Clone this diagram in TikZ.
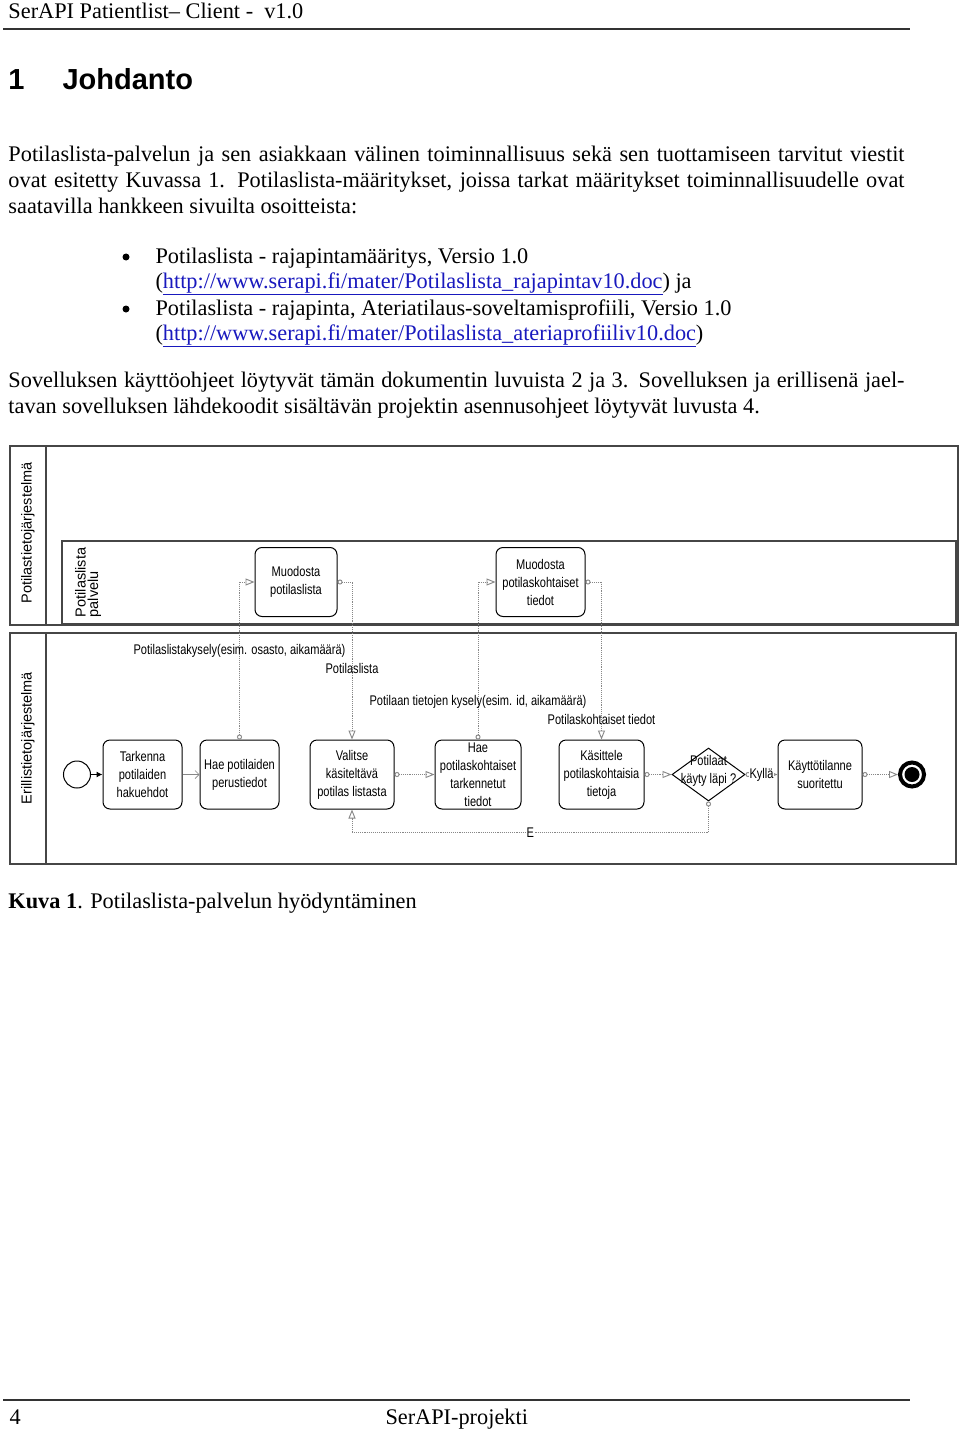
\documentclass[tikz,border=0pt]{standalone}
\usepackage{fontspec}
\usepackage{xcolor}
\usetikzlibrary{positioning,shapes.geometric,arrows.meta}
\setmainfont{Liberation Serif}
\newfontfamily\diagfont[FakeStretch=0.79]{Liberation Sans}
\newfontfamily\headfont{Liberation Sans}
\definecolor{linkblue}{RGB}{25,25,190}
\definecolor{flowgray}{RGB}{135,135,135}
\definecolor{poolgray}{RGB}{70,70,70}
\tikzstyle{task} = [rectangle, draw, rounded corners=7pt, minimum width=82pt, minimum height=69pt, align=center, inner sep=2pt, font=\diagfont\fontsize{14}{18}\selectfont]
\tikzstyle{decision} = [diamond, draw, minimum width=73pt, minimum height=53pt, inner sep=0pt, font=\diagfont\fontsize{14}{18}\selectfont]
\tikzstyle{startevent} = [circle, draw, minimum size=27pt, inner sep=0pt]
\tikzstyle{endevent} = [circle, draw, line width=4pt, minimum size=24pt, inner sep=0pt, path picture={\fill (path picture bounding box.center) circle (7.5pt);}]
\tikzstyle{msg} = [densely dotted, flowgray, line width=0.9pt, {Circle[open,length=5pt,width=5pt]}-{Triangle[open,length=9pt,width=7pt]}]
\tikzstyle{flowlabel} = [font=\diagfont\fontsize{14}{15}\selectfont, text=black, inner sep=1pt]
\tikzstyle{pool} = [draw=poolgray, line width=1.4pt]
\tikzstyle{poollabel} = [rotate=90, font=\headfont\fontsize{14.5}{12.5}\selectfont]
\tikzstyle{body} = [anchor=base west, inner sep=0pt, font=\fontsize{22.3}{26}\selectfont]
\tikzstyle{bullet} = [circle, fill, minimum size=7pt, inner sep=0pt]

\begin{document}
\begin{tikzpicture}[x=1pt,y=-1pt,>=stealth,node distance=97pt,line width=1pt]
  \path[fill=white,use as bounding box] (0,0) rectangle (960,1431);

  \node[body] (otsake) at (8,19) {SerAPI Patientlist-- Client -\ \ v1.0};
  \draw[line width=2pt,black!80] (3,29.5) -- (910,29.5);
  \node[body,font=\headfont\bfseries\fontsize{29}{30}\selectfont] (luku) at (8,90) {1};
  \node[body,font=\headfont\bfseries\fontsize{29}{30}\selectfont] (johdanto) at (62,90) {Johdanto};

  \node[body] (rivi1) at (8,162) {\makebox[896pt][s]{Potilaslista-palvelun ja sen asiakkaan välinen toiminnallisuus sekä sen tuottamiseen tarvitut viestit}};
  \node[body] (rivi2) at (8,188) {\makebox[896pt][s]{ovat esitetty Kuvassa 1. Potilaslista-määritykset, joissa tarkat määritykset toiminnallisuudelle ovat}};
  \node[body] (rivi3) at (8,214) {saatavilla hankkeen sivuilta osoitteista:};

  \node[bullet] (pallo1) at (126,257) {};
  \node[body] (kohta1) at (155,263) {Potilaslista - rajapintamääritys, Versio 1.0};
  \node[body] (linkki1) at (155,288) {(\textcolor{linkblue}{\underline{http://www.serapi.fi/mater/Potilaslista\_rajapintav10.doc}}) ja};
  \node[bullet] (pallo2) at (126,309) {};
  \node[body] (kohta2) at (155,315) {Potilaslista - rajapinta, Ateriatilaus-soveltamisprofiili, Versio 1.0};
  \node[body] (linkki2) at (155,340) {(\textcolor{linkblue}{\underline{http://www.serapi.fi/mater/Potilaslista\_ateriaprofiiliv10.doc}})};

  \node[body] (rivi4) at (8,387) {\makebox[896pt][s]{Sovelluksen käyttöohjeet löytyvät tämän dokumentin luvuista 2 ja 3. Sovelluksen ja erillisenä jael-}};
  \node[body] (rivi5) at (8,413) {tavan sovelluksen lähdekoodit sisältävän projektin asennusohjeet löytyvät luvusta 4.};

  \draw[pool] (10,446) rectangle (958,625);
  \draw[pool] (46,446) -- (46,625);
  \draw[pool] (62,541) rectangle (956,624);
  \draw[pool] (10,633) rectangle (956,864);
  \draw[pool] (46,633) -- (46,864);
  \node[poollabel] (ptj) at (28,533) {Potilastietojärjestelmä};
  \node[poollabel,align=left,anchor=west] (palvelu) at (88,621) {Potilaslista\\palvelu};
  \node[poollabel] (etj) at (28,738) {Erillistietojärjestelmä};

  \node[task] (muodlista) at (296,582) {Muodosta\\potilaslista};
  \node[task,minimum width=89pt] (muodtiedot) at (540.5,582) {Muodosta\\potilaskohtaiset\\tiedot};

  \node[startevent] (alku) at (77,774.5) {};
  \node[task,minimum width=79pt] (tarkenna) at (142.5,774.5) {Tarkenna\\potilaiden\\hakuehdot};
  \node[task,minimum width=79pt] (perustiedot) [right of=tarkenna] {Hae potilaiden\\perustiedot};
  \node[task,node distance=112.5pt,minimum width=84pt] (valitse) [right of=perustiedot] {Valitse\\käsiteltävä\\potilas listasta};
  \node[task,node distance=126pt,minimum width=86pt,inner ysep=0pt] (tarkennetut) [right of=valitse] {Hae\\potilaskohtaiset\\tarkennetut\\tiedot};
  \node[task,node distance=123.5pt,minimum width=85pt] (kasittele) [right of=tarkennetut] {Käsittele\\potilaskohtaisia\\tietoja};
  \node[decision,node distance=107pt] (lapi) [right of=kasittele] {\smash{\makebox[0pt]{\begin{tabular}{@{}c@{}}Potilaat\\käyty läpi ?\end{tabular}}}};
  \node[task,node distance=111.5pt,minimum width=84pt] (suoritettu) [right of=lapi] {Käyttötilanne\\suoritettu};
  \node[endevent,node distance=92pt] (loppu) [right of=suoritettu] {};

  \draw[-{Latex[length=6pt,width=6pt]},black] (alku) -- (tarkenna);
  \draw[-{Straight Barb[length=4pt,width=8pt]},flowgray,line width=0.7pt] (tarkenna) -- (perustiedot);
  \draw[msg] (perustiedot.north) |- (muodlista.west) node[flowlabel,pos=0.282] {Potilaslistakysely(esim. osasto, aikamäärä)};
  \draw[msg] (muodlista.east) -| (valitse.north) node[flowlabel,pos=0.774] {Potilaslista};
  \draw[msg] (valitse) -- (tarkennetut);
  \draw[msg] (tarkennetut.north) |- (muodtiedot.west) node[flowlabel,pos=0.118] {Potilaan tietojen kysely(esim. id, aikamäärä)};
  \draw[msg] (muodtiedot.east) -| (kasittele.north) node[flowlabel,pos=0.936] {Potilaskohtaiset tiedot};
  \draw[msg] (kasittele) -- (lapi);
  \draw[msg] (lapi) -- (suoritettu) node[flowlabel,midway,fill=white] {Kyllä};
  \draw[msg] (lapi.south) -- ++(0,31) -| (valitse.south) node[flowlabel,pos=0.25,fill=white] {E};
  \draw[msg] (suoritettu) -- (loppu);

  \node[body] (kuvateksti) at (8,908) {\textbf{Kuva 1}. Potilaslista-palvelun hyödyntäminen};

  \draw[line width=2pt,black!80] (3,1399.5) -- (910,1399.5);
  \node[body] (sivu) at (9,1424) {4};
  \node[body] (projekti) at (385,1424) {SerAPI-projekti};
\end{tikzpicture}
\end{document}
